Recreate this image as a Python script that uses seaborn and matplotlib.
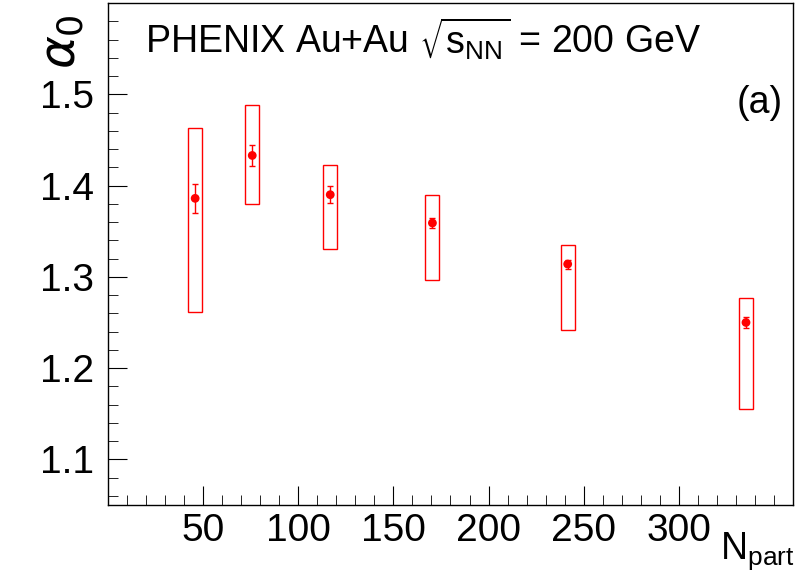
import numpy as np
import matplotlib
matplotlib.use("Agg")
import matplotlib.pyplot as plt
from matplotlib.patches import Rectangle
from matplotlib.ticker import MultipleLocator
import seaborn as sns

npart = [45.8, 75.8, 116.8, 170.5, 241.6, 335.3]
alpha0 = [1.386, 1.433, 1.390, 1.359, 1.314, 1.250]
stat_err = [0.016, 0.012, 0.009, 0.006, 0.005, 0.006]
sys_lo = [1.261, 1.380, 1.331, 1.297, 1.242, 1.155]
sys_hi = [1.463, 1.488, 1.422, 1.390, 1.335, 1.277]
box_half = 3.7

sns.set_style("ticks")
plt.rcParams["font.family"] = ["Liberation Sans", "DejaVu Sans"]
plt.rcParams["text.color"] = "black"
plt.rcParams["xtick.color"] = "black"
plt.rcParams["ytick.color"] = "black"

fig = plt.figure(figsize=(7.96, 5.72), dpi=100)
ax = fig.add_axes([0.1357, 0.1171, 0.8605, 0.8776])

for x, lo, hi in zip(npart, sys_lo, sys_hi):
    ax.add_patch(Rectangle((x - box_half, lo), 2 * box_half, hi - lo,
                           fill=False, edgecolor="red", linewidth=1))
ax.errorbar(npart, alpha0, yerr=stat_err, fmt="none", ecolor="red",
            elinewidth=1, capsize=2)
sns.scatterplot(x=npart, y=alpha0, color="red", s=40, ax=ax, zorder=3,
                edgecolor="none")

ax.set_xlim(0, 360)
ax.set_ylim(1.05, 1.6)
ax.set_xticks([50, 100, 150, 200, 250, 300])
ax.set_yticks([1.1, 1.2, 1.3, 1.4, 1.5])
ax.xaxis.set_minor_locator(MultipleLocator(10))
ax.yaxis.set_minor_locator(MultipleLocator(0.02))
ax.tick_params(which="both", direction="in", labelsize=28)
ax.tick_params(which="major", length=14)
ax.tick_params(which="minor", length=7)
ax.tick_params(axis="y", pad=10)
ax.tick_params(axis="x", pad=6)
for s in ax.spines.values():
    s.set_linewidth(1)
    s.set_color("black")

fig.text(0.998, 0.0, r"N$_{\mathregular{part}}$", fontsize=27,
         ha="right", va="bottom")
fig.text(0.05, 0.975, r"$\alpha_0$", fontsize=36, ha="left", va="top", rotation=90)
ax.text(0.46, 0.975, r"PHENIX Au+Au $\sqrt{\mathregular{s_{NN}}}$ = 200 GeV",
        transform=ax.transAxes, fontsize=27, ha="center", va="top")
ax.text(0.985, 0.8, "(a)", transform=ax.transAxes, fontsize=27,
        ha="right", va="center")

fig.savefig("out.png", dpi=100)
